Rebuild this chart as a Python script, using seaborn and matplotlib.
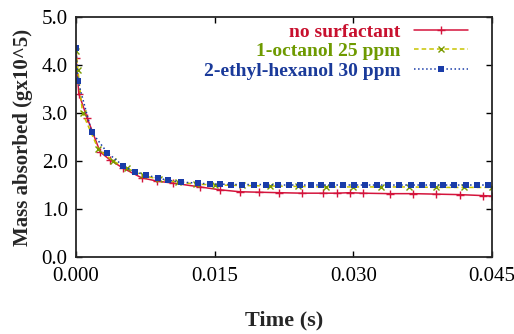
import matplotlib
matplotlib.use("Agg")
import matplotlib.pyplot as plt
import seaborn as sns

# time (s) and mass absorbed (g x10^5)
t_none = [0.0, 0.0003, 0.0012, 0.0026, 0.0037, 0.0051, 0.0071, 0.0088, 0.0105, 0.0134,
          0.0156, 0.0177, 0.0198, 0.0220, 0.0245, 0.0267, 0.0282, 0.0296, 0.0310, 0.0340,
          0.0365, 0.0390, 0.0415, 0.0440, 0.0450]
m_none = [4.15, 3.40, 2.90, 2.19, 2.02, 1.85, 1.65, 1.58, 1.54, 1.46,
          1.40, 1.36, 1.35, 1.34, 1.33, 1.33, 1.33, 1.34, 1.33, 1.32,
          1.32, 1.31, 1.30, 1.28, 1.27]

t_oct = [0.0, 0.0002, 0.0007, 0.0024, 0.0040, 0.0055, 0.0072, 0.0090, 0.0110, 0.0130,
         0.0150, 0.0180, 0.0210, 0.0240, 0.0270, 0.0300, 0.0330, 0.0360, 0.0390, 0.0420,
         0.0450]
m_oct = [4.30, 3.90, 3.00, 2.25, 2.00, 1.85, 1.70, 1.62, 1.56, 1.52,
         1.50, 1.49, 1.48, 1.47, 1.46, 1.46, 1.46, 1.46, 1.45, 1.45,
         1.45]

t_eth = [0.0, 0.0002, 0.0017, 0.0034, 0.0051, 0.0064, 0.0076, 0.0089, 0.0100, 0.0114,
         0.0132, 0.0145, 0.0156, 0.0168, 0.0180, 0.0193, 0.0206, 0.0218, 0.0230, 0.0242,
         0.0254, 0.0265, 0.0277, 0.0289, 0.0301, 0.0313, 0.0326, 0.0338, 0.0350, 0.0362,
         0.0374, 0.0386, 0.0397, 0.0409, 0.0422, 0.0434, 0.0446]
m_eth = [4.35, 3.67, 2.60, 2.17, 1.90, 1.77, 1.71, 1.64, 1.60, 1.56,
         1.54, 1.52, 1.52, 1.51, 1.51, 1.51, 1.51, 1.50, 1.50, 1.50,
         1.50, 1.50, 1.50, 1.50, 1.50, 1.50, 1.50, 1.50, 1.50, 1.50,
         1.50, 1.50, 1.50, 1.50, 1.50, 1.50, 1.50]

labels = ['no surfactant', '1-octanol 25 ppm', '2-ethyl-hexanol 30 ppm']

sns.set_style("ticks")
plt.rcParams['font.family'] = ['Liberation Serif', 'DejaVu Serif']

fig = plt.figure(figsize=(5.14, 3.34), dpi=100)
ax = fig.add_axes([0.148, 0.2305, 0.809, 0.7185])

sns.lineplot(x=t_none, y=m_none, ax=ax, color='#d4143c', lw=1.1, marker='+',
             markersize=6, mew=1.0, mec='#d4143c', label=labels[0])
sns.lineplot(x=t_oct, y=m_oct, ax=ax, color='#c8c400', lw=1.1, ls=(0, (3, 2)), marker='x',
             markersize=4, mew=1.0, mec='#7a9a00', label=labels[1])
sns.lineplot(x=t_eth, y=m_eth, ax=ax, color='#1a3ca8', lw=1.1, ls=':', marker='s',
             markersize=4, mew=0, label=labels[2])

ax.set_xlim(0, 0.045)
ax.set_ylim(0, 5)
ax.set_xticks([0.0, 0.015, 0.030, 0.045])
ax.set_xticklabels(['0.000', '0.015', '0.030', '0.045'])
ax.set_yticks([0, 1, 2, 3, 4, 5])
ax.set_yticklabels(['0.0', '1.0', '2.0', '3.0', '4.0', '5.0'])
ax.tick_params(direction='in', top=True, right=True, length=4, width=1,
               labelsize=15, colors='black')
ax.tick_params(axis='x', pad=7)
ax.tick_params(axis='y', pad=6)
for s in ax.spines.values():
    s.set_linewidth(1.3)
    s.set_visible(True)

ax.set_xlabel('Time (s)', fontsize=16, fontweight='bold', labelpad=18)
ax.set_ylabel('Mass absorbed (gx10^5)', fontsize=15, fontweight='bold', labelpad=6)

leg = ax.legend(loc='upper right', bbox_to_anchor=(0.962, 1.008), frameon=False,
                markerfirst=False, fontsize=14,
                handlelength=2.8, handletextpad=0.7, labelspacing=0.1,
                borderaxespad=0,
                labelcolor=['#c8102e', '#6e9a00', '#1a3a9a'])
for txt in leg.get_texts():
    txt.set_fontweight('bold')

fig.savefig('out.png', dpi=100)
